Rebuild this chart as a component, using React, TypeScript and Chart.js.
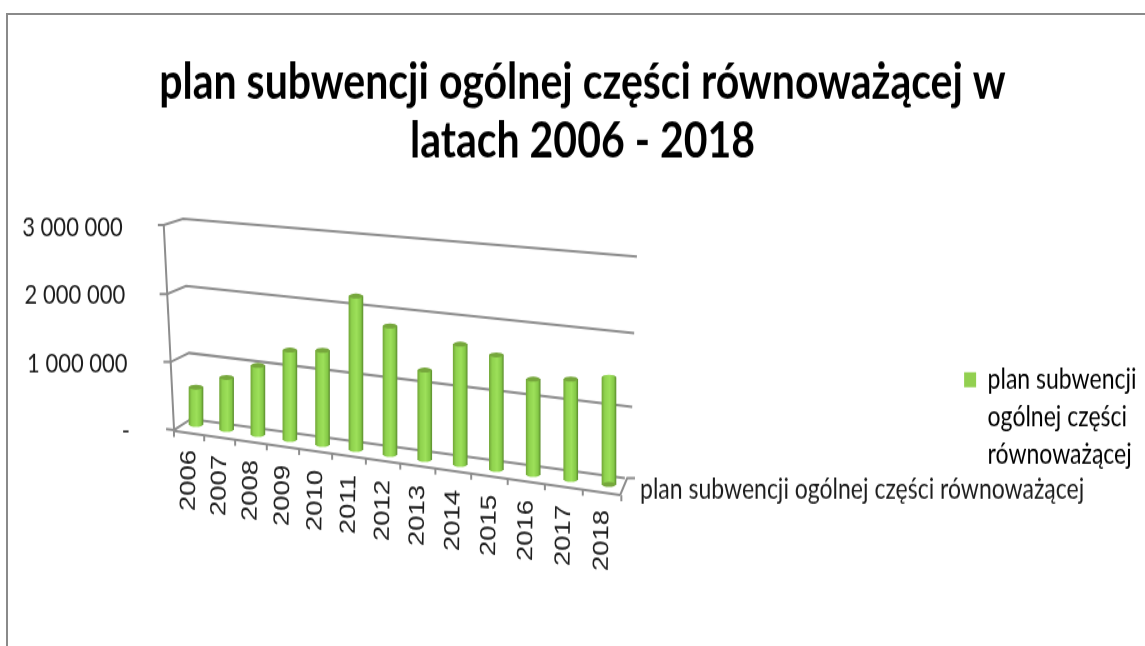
import React, { useEffect, useRef } from "react";
import { Chart, registerables, CategoryScale, LinearScale } from "chart.js";

const years = ["2006","2007","2008","2009","2010","2011","2012","2013","2014","2015","2016","2017","2018"];
const planValues = [550000,760000,1000000,1285000,1345000,2175000,1810000,1250000,1670000,1580000,1305000,1365000,1450000];
const axisLevels = [0, 1000000, 2000000, 3000000];
const seriesName = "plan subwencji ogólnej części równoważącej";
const legendLines = ["plan subwencji", "ogólnej części", "równoważącej"];
const titleLines = ["plan subwencji ogólnej części równoważącej w", "latach 2006 - 2018"];
const M = 1000000;

const STRETCH = 1.25; // the picture is stretched vertically
const FRAME = "#8d8d8d";
const TEXT = "#1c1c1c";

// 3D slant of the floor and growth of the value scale towards the right
const slantBase = (i: number) => 0.081 * M - 0.0735 * M * i;
const growth = (i: number) => 1 + 0.00735 * i;

class PerspectiveCategory extends CategoryScale {
  static id = "perspectiveCategory";
  getPixelForValue(value: any) {
    const t = typeof value === "number" ? value : (this as any).parse(value);
    return (this as any).left + 30 + 30.25 * t + 0.347 * t * t;
  }
  _computeLabelArea() {
    return undefined;
  }
  _computeLabelItems(area: any) {
    const items = (super._computeLabelItems as any)(area);
    items.forEach((it: any, i: number) => {
      it.textOffset = 0;
      it.options.textAlign = "right";
      it.options.textBaseline = "middle";
      it.options.translation = [this.getPixelForValue(i) - 6.5, (450 + 5 * i) / STRETCH];
    });
    return items;
  }
}

class LeaningLinear extends LinearScale {
  static id = "leaningLinear";
  _computeLabelArea() {
    return undefined;
  }
  _computeLabelItems(area: any) {
    const items = (super._computeLabelItems as any)(area);
    items.forEach((it: any, i: number) => {
      const v = (this as any).ticks[i]?.value ?? 0;
      it.options.translation[0] -= (v / M) * 2.4;
      it.options.translation[1] += 1;
    });
    return items;
  }
}

Chart.register(...registerables, PerspectiveCategory, LeaningLinear);

const frameLines: [number, number][][] = [
  [[-1.28, 3.015], [-1.08, 3.015], [-0.43, 3.103], [12.72, 2.551]],
  [[-1.22, 2.0], [-0.97, 2.0], [-0.33, 2.118], [12.65, 1.426]],
  [[-1.09, 1.0], [-0.85, 1.0], [-0.23, 1.132], [12.6, 0.338]],
  [[-1.0, 0.015], [-0.73, 0], [-0.165, 0.162], [12.41, -0.706]],
  [[12.67, -0.706], [12.47, -0.706], [12.29, -0.956]],
  [[-0.73, -0.015], [12.29, -0.956]],
  [[-1.08, 3.015], [-0.73, 0]],
];

const framePlugin = {
  id: "frame3d",
  afterLayout(chart: any) {
    const lg = chart.legend;
    const dy = 79;
    const dx = 1145 - 8 - lg.right;
    lg.top += dy;
    lg.bottom += dy;
    lg.left += dx;
    lg.right += dx;
  },
  beforeDatasetsDraw(chart: any) {
    const { ctx, scales: { x, y } } = chart;
    ctx.save();
    ctx.strokeStyle = FRAME;
    ctx.lineWidth = 2;
    frameLines.forEach((line) => {
      ctx.beginPath();
      line.forEach(([t, v], k) => {
        const px = x.getPixelForValue(t), py = y.getPixelForValue(v * M);
        k ? ctx.lineTo(px, py) : ctx.moveTo(px, py);
      });
      ctx.stroke();
    });
    // front-edge ticks between the categories
    const x0 = x.getPixelForValue(-0.73), x1 = x.getPixelForValue(12.29);
    const y0 = y.getPixelForValue(-0.015 * M), y1 = y.getPixelForValue(-0.956 * M);
    for (let i = 0; i <= years.length; i++) {
      const px = x.getPixelForValue(i - 0.5) - 7;
      const py = y0 + ((px - x0) / (x1 - x0)) * (y1 - y0);
      ctx.beginPath();
      ctx.moveTo(px, py);
      ctx.lineTo(px, py + 6 / STRETCH);
      ctx.stroke();
    }
    ctx.restore();
  },
  afterDatasetsDraw(chart: any) {
    const { ctx } = chart;
    const ry = 2;
    ctx.save();
    chart.getDatasetMeta(0).data.forEach((bar: any) => {
      const { x, y, base, width } = bar.getProps(["x", "y", "base", "width"], true);
      ctx.fillStyle = bar.options.backgroundColor;
      ctx.beginPath();
      ctx.ellipse(x, base, width / 2, ry, 0, 0, Math.PI * 2);
      ctx.fill();
      ctx.fillStyle = "#76a73c";
      ctx.beginPath();
      ctx.ellipse(x, y, width / 2, ry, 0, 0, Math.PI * 2);
      ctx.fill();
    });
    // name of the single series on the depth axis
    ctx.fillStyle = TEXT;
    ctx.font = "23px Lato";
    ctx.textAlign = "left";
    ctx.textBaseline = "middle";
    ctx.fillText(seriesName, 640, 489 / STRETCH);
    ctx.restore();
  },
};

export default function App() {
  const ref = useRef<HTMLCanvasElement>(null);
  useEffect(() => {
    const chart = new Chart(ref.current as HTMLCanvasElement, {
      type: "bar",
      data: {
        labels: years,
        datasets: [
          {
            label: seriesName,
            data: planValues.map((v, i) => [slantBase(i), slantBase(i) + v * growth(i)]),
            barThickness: 14,
            clip: false,
            borderWidth: 0,
            backgroundColor: (c: any) => {
              const xs = c.chart.scales?.x;
              if (!xs || c.dataIndex === undefined) return "#92d050";
              const cx = xs.getPixelForValue(c.dataIndex);
              const g = c.chart.ctx.createLinearGradient(cx - 7, 0, cx + 7, 0);
              g.addColorStop(0, "#74aa3a");
              g.addColorStop(0.2, "#8fd24e");
              g.addColorStop(0.55, "#9de05a");
              g.addColorStop(0.85, "#85c947");
              g.addColorStop(1, "#5f9230");
              return g;
            },
          } as any,
        ],
      },
      plugins: [framePlugin],
      options: {
        responsive: false,
        animation: false,
        layout: { padding: { left: 20, right: 0, top: 0, bottom: 0 } },
        scales: {
          x: {
            type: "perspectiveCategory" as any,
            border: { display: false },
            grid: { display: false },
            afterFit: (s: any) => { s.height = 109; },
            ticks: {
              autoSkip: false,
              minRotation: 89,
              maxRotation: 89,
              color: TEXT,
              font: { family: "'Liberation Sans'", size: 22 },
            },
          },
          y: {
            type: "leaningLinear" as any,
            min: -1.176 * M,
            max: 3.2 * M,
            border: { display: false },
            grid: { display: false },
            afterFit: (s: any) => { s.width = 146; },
            afterBuildTicks: (s: any) => { s.ticks = axisLevels.map((value) => ({ value })); },
            ticks: {
              autoSkip: false,
              padding: 28,
              color: TEXT,
              font: { family: "Lato", size: 22 },
              callback: (v: any) => (v === 0 ? "-" : String(v / M) + " 000 000"),
            },
          },
        },
        plugins: {
          tooltip: { enabled: false },
          title: {
            display: true,
            text: titleLines,
            color: "#000000",
            font: { family: "Lato", size: 41, weight: "bold", lineHeight: 1.132 },
            padding: { top: 43, bottom: 34 },
          },
          legend: {
            display: true,
            position: "right",
            labels: {
              boxWidth: 12,
              boxHeight: 12,
              color: TEXT,
              padding: 0,
              font: { family: "Lato", size: 23, lineHeight: 1.31 },
              generateLabels: () => [
                { text: legendLines as any, fillStyle: "#92d050", strokeStyle: "#92d050", lineWidth: 0, datasetIndex: 0 } as any,
              ],
            },
          },
        },
      },
    });
    return () => chart.destroy();
  }, []);
  return (
    <div style={{ position: "absolute", left: 0, top: 0, width: 1145, height: 646, overflow: "hidden", background: "#fff" }}>
      <canvas
        ref={ref}
        width={1145}
        height={517}
        style={{ position: "absolute", left: 0, top: 0, transformOrigin: "0 0", transform: `scaleY(${STRETCH})` }}
      />
      <div style={{ position: "absolute", left: 6, top: 13, right: -4, bottom: -4, borderTop: "2px solid #8a8a8a", borderLeft: "2px solid #8a8a8a" }} />
    </div>
  );
}
